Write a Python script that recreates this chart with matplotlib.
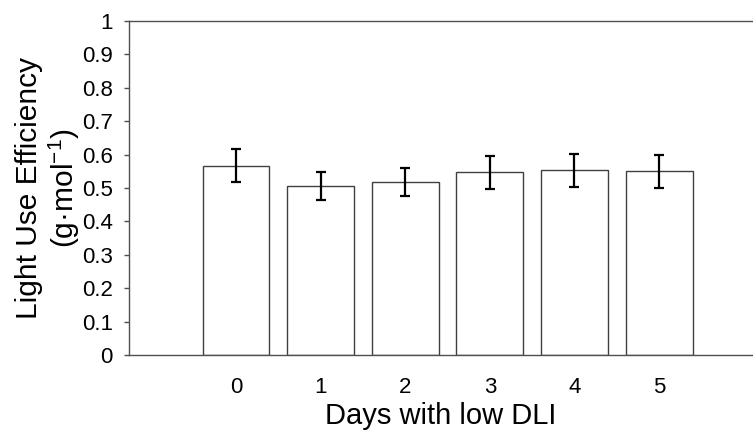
import matplotlib.pyplot as plt

plt.rcParams['font.family'] = ['Liberation Sans', 'DejaVu Sans']
plt.rcParams['mathtext.fontset'] = 'custom'
plt.rcParams['mathtext.rm'] = 'Liberation Sans'

days = [0, 1, 2, 3, 4, 5]
lue = [0.567, 0.505, 0.518, 0.547, 0.553, 0.550]
lue_err = [0.050, 0.042, 0.043, 0.049, 0.050, 0.049]
yticks = [0, 0.1, 0.2, 0.3, 0.4, 0.5, 0.6, 0.7, 0.8, 0.9, 1]
ytick_labels = ["0", "0.1", "0.2", "0.3", "0.4", "0.5", "0.6", "0.7", "0.8", "0.9", "1"]

fig = plt.figure(figsize=(7.53, 4.30), dpi=100)
ax = fig.add_axes([129 / 753, 1 - 355 / 430, 1 - 129 / 753, (355 - 21) / 430])

ax.bar(days, lue, width=0.79, color="white", edgecolor="#404040", linewidth=1.0, zorder=2)
ax.errorbar(days, lue, yerr=lue_err, fmt="none", ecolor="black",
            elinewidth=1.6, capsize=3.3, capthick=1.6, zorder=3)

ax.set_xlim(-1.265, 6.11)
ax.set_ylim(0, 1)
ax.set_yticks(yticks)
ax.set_yticklabels(ytick_labels)
ax.set_xticks(days)
ax.set_xticklabels([str(d) for d in days])

for side in ["left", "bottom", "top"]:
    ax.spines[side].set_color("#505050")
    ax.spines[side].set_linewidth(1.0)
ax.spines["right"].set_visible(False)

ax.tick_params(axis="y", direction="out", length=3.6, width=1.0, color="#505050",
               labelsize=16, pad=8)
ax.tick_params(axis="x", length=0, labelsize=16, pad=16)

ax.set_ylabel("Light Use Efficiency\n(g·mol$^{\\mathregular{-1}}$)", fontsize=21.5,
              linespacing=1.1, labelpad=0)
ax.set_xlabel("Days with low DLI", fontsize=21, labelpad=3)

fig.savefig("out.png", dpi=100)
